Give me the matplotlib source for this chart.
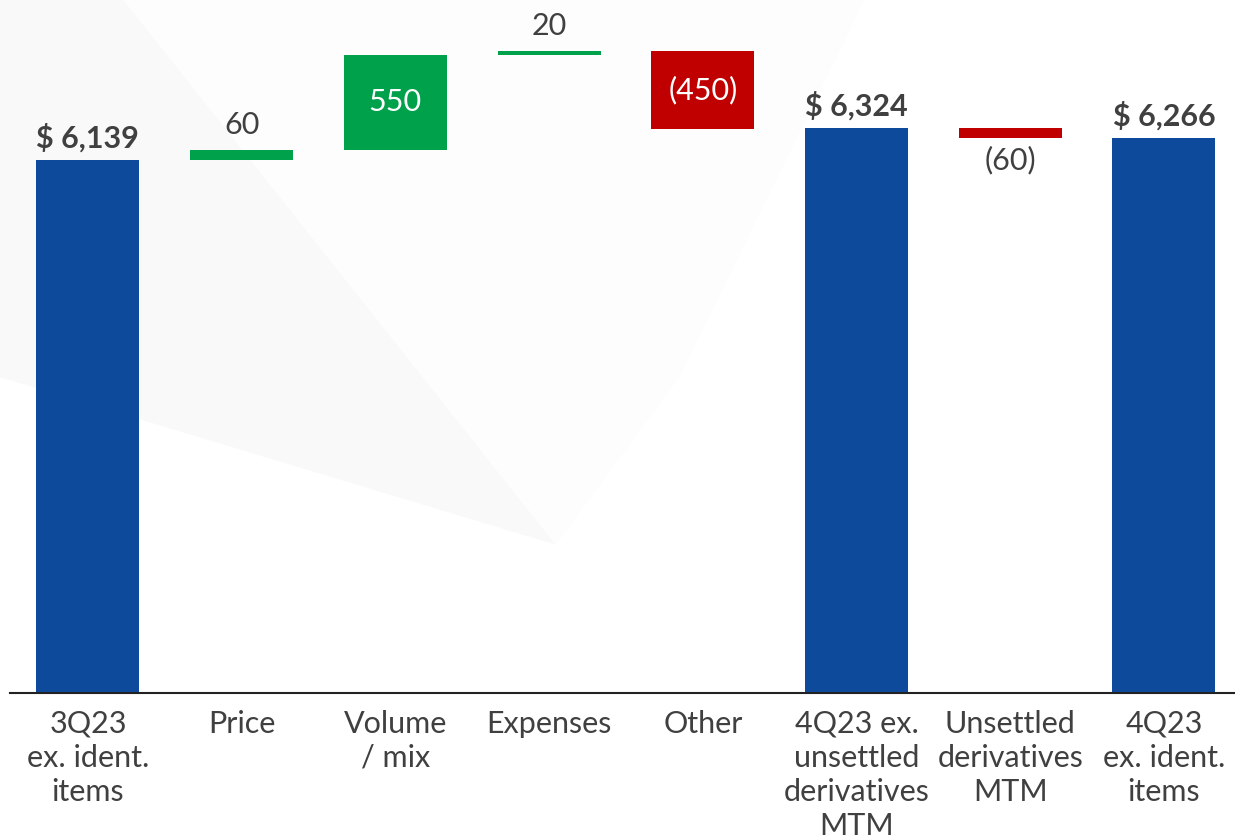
import numpy as np
import matplotlib
matplotlib.use('Agg')
import matplotlib.pyplot as plt
from matplotlib.patches import Polygon

plt.rcParams['font.family'] = ['Lato', 'DejaVu Sans']

# data
categories = ['3Q23\nex. ident.\nitems', 'Price', 'Volume\n/ mix', 'Expenses', 'Other',
              '4Q23 ex.\nunsettled\nderivatives\nMTM', 'Unsettled\nderivatives\nMTM', '4Q23\nex. ident.\nitems']
start_total = 6139
steps = [60, 550, 20, -450]
mid_total = 6324
mtm_step = -60
end_total = 6266

blue = '#0E4A9C'
green = '#00A14B'
red = '#C00000'
txt = '#404040'

fig = plt.figure(figsize=(12.35, 8.38), dpi=100)

# faint background shapes
fig.patches.append(Polygon([[0, 1], [0.10, 1], [0.45, 0.35], [0, 0.55]], closed=True,
                           transform=fig.transFigure, fc='#f9f9f9', ec='none', zorder=-2))
fig.patches.append(Polygon([[0.10, 1], [0.70, 1], [0.55, 0.55], [0.45, 0.35]], closed=True,
                           transform=fig.transFigure, fc='#fdfdfd', ec='none', zorder=-2))

ax = fig.add_axes([10 / 1235, 145 / 838, 1 - 10 / 1235, 693 / 838])
ax.patch.set_alpha(0)

xs = np.arange(len(categories))
w = 0.67

# bottoms / heights
bottoms = [0]
heights = [start_total]
colors = [blue]
run = start_total
for s in steps:
    bottoms.append(run if s >= 0 else run + s)
    heights.append(abs(s))
    colors.append(green if s >= 0 else red)
    run += s
bottoms.append(0)
heights.append(mid_total)
colors.append(blue)
bottoms.append(mid_total + mtm_step)
heights.append(abs(mtm_step))
colors.append(red)
bottoms.append(0)
heights.append(end_total)
colors.append(blue)

ax.bar(xs, heights, bottom=bottoms, width=w, color=colors, zorder=2)

# labels
def fmt(v):
    return '(%d)' % abs(v) if v < 0 else '%d' % v

fs = 22
for i, (b, h) in enumerate(zip(bottoms, heights)):
    if i in (0, 5, 7):
        ax.annotate('$ {:,}'.format(h), (xs[i], b + h), xytext=(0, 16), textcoords='offset points',
                    ha='center', va='center', fontsize=fs, fontweight='bold', color=txt)
    elif i == 2 or i == 4:
        v = steps[i - 1]
        ax.text(xs[i], b + h / 2, fmt(v), ha='center', va='center', fontsize=fs, color='white')
    elif i == 6:
        ax.annotate(fmt(mtm_step), (xs[i], b), xytext=(0, -16), textcoords='offset points',
                    ha='center', va='center', fontsize=fs, color=txt)
    else:
        v = steps[i - 1]
        ax.annotate(fmt(v), (xs[i], b + h), xytext=(0, 18), textcoords='offset points',
                    ha='center', va='center', fontsize=fs, color=txt)

ax.set_xlim(-0.507, 7.462)
ax.set_ylim(3053, 7065)
ax.set_xticks(xs)
ax.set_xticklabels(categories, fontsize=fs, color=txt, linespacing=1.27)
ax.tick_params(axis='x', length=0, pad=12)
ax.set_yticks([])
for sp in ['top', 'right', 'left']:
    ax.spines[sp].set_visible(False)
ax.spines['bottom'].set_color('#222222')
ax.spines['bottom'].set_linewidth(1.5)

plt.savefig('out.png', dpi=100)
